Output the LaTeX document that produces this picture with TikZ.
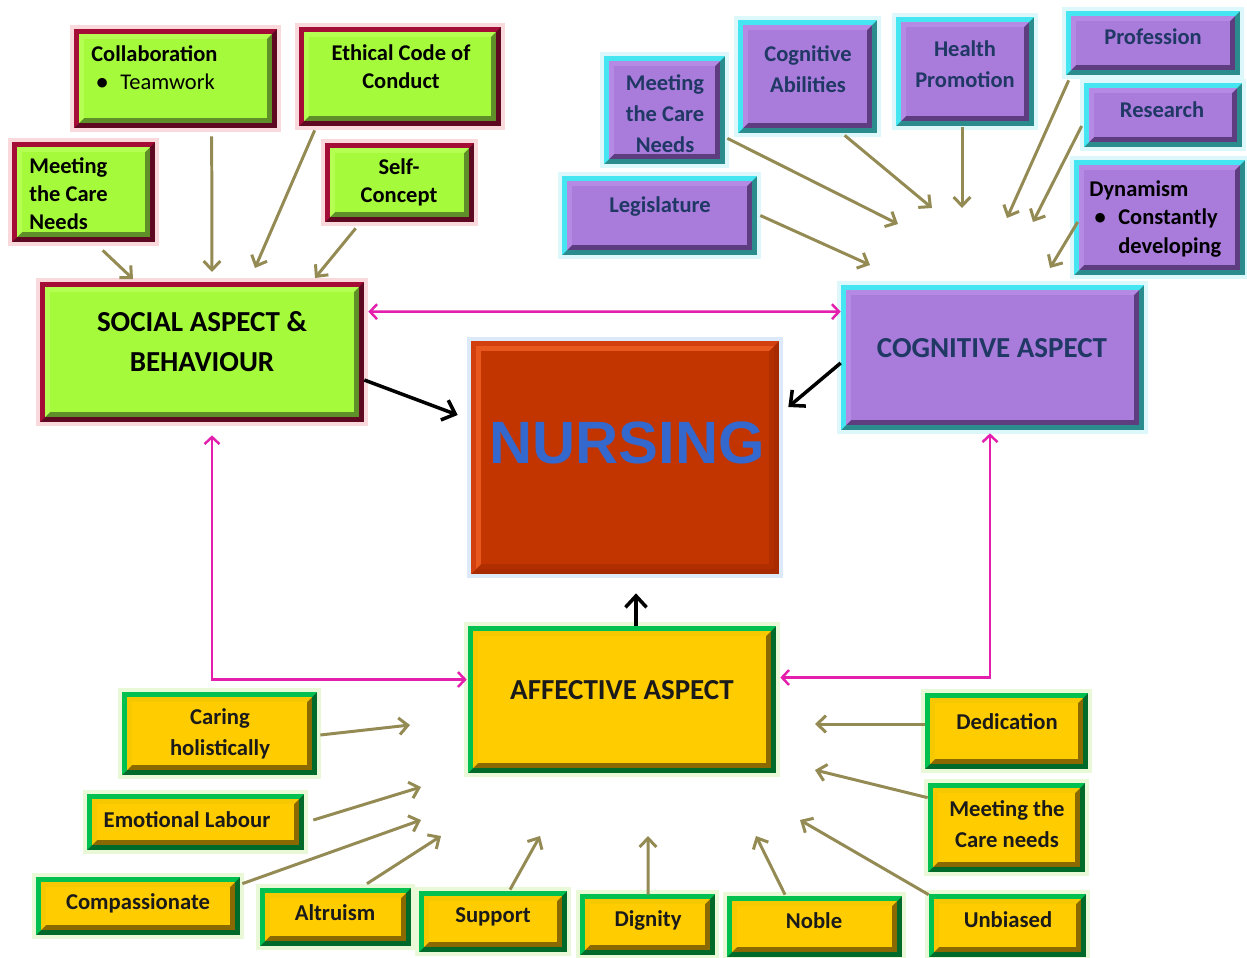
\documentclass[tikz,border=0pt]{standalone}
\usepackage{fontspec}
\setmainfont{Carlito}
\newfontfamily\nursefont{Liberation Sans}
\usetikzlibrary{arrows.meta,calc}
\definecolor{olv}{HTML}{948A54}
\definecolor{mag}{HTML}{E41FAE}
\definecolor{pnavy}{HTML}{1F3864}
\definecolor{ytext}{HTML}{1A1A1A}
% green set
\definecolor{gBl}{HTML}{A40E36}
\definecolor{gBd}{HTML}{5E0822}
\definecolor{gVl}{HTML}{B4FF52}
\definecolor{gVd}{HTML}{5F8F28}
\definecolor{gM}{HTML}{A6FA3C}
\definecolor{gG}{HTML}{F2A0A8}
% purple set
\definecolor{pBl}{HTML}{45E6F2}
\definecolor{pBd}{HTML}{2A8C8C}
\definecolor{pVl}{HTML}{B48AE4}
\definecolor{pVd}{HTML}{5E3C80}
\definecolor{pM}{HTML}{A97BDB}
\definecolor{pG}{HTML}{A8EEF6}
% yellow set
\definecolor{yBl}{HTML}{00C050}
\definecolor{yBd}{HTML}{006A2A}
\definecolor{yVl}{HTML}{F5C800}
\definecolor{yVd}{HTML}{8A6A00}
\definecolor{yM}{HTML}{FFCC00}
\definecolor{yG}{HTML}{C8EE9C}
% nursing set
\definecolor{nBl}{HTML}{D24010}
\definecolor{nBd}{HTML}{A82A00}
\definecolor{nVl}{HTML}{E8581E}
\definecolor{nVd}{HTML}{B02E00}
\definecolor{nM}{HTML}{C23400}
\definecolor{nG}{HTML}{A8C8F0}
\definecolor{nText}{HTML}{3468CC}
\def\Bw{0.1cm}
\def\Bi{0.2cm}
\tikzset{
  bev/.style n args={6}{rectangle, inner sep=0pt, fill=#2,
    preaction={draw=#6, line width=5pt, opacity=0.4},
    path picture={
      \path (path picture bounding box.south west) coordinate (SW)
            (path picture bounding box.north east) coordinate (NE)
            (path picture bounding box.north west) coordinate (NW)
            (path picture bounding box.south east) coordinate (SE);
      \fill[#2] (SW) rectangle (NE);
      \fill[#1] (SW) -- (NW) -- (NE) -- ([shift={(-\Bw,-\Bw)}]NE)
            -- ([shift={(\Bw,-\Bw)}]NW) -- ([shift={(\Bw,\Bw)}]SW) -- cycle;
      \fill[#4] ([shift={(\Bw,\Bw)}]SW) rectangle ([shift={(-\Bw,-\Bw)}]NE);
      \fill[#3] ([shift={(\Bw,\Bw)}]SW) -- ([shift={(\Bw,-\Bw)}]NW) -- ([shift={(-\Bw,-\Bw)}]NE)
            -- ([shift={(-\Bi,-\Bi)}]NE) -- ([shift={(\Bi,-\Bi)}]NW) -- ([shift={(\Bi,\Bi)}]SW) -- cycle;
      \fill[#5] ([shift={(\Bi,\Bi)}]SW) rectangle ([shift={(-\Bi,-\Bi)}]NE);
    }},
  gbox/.style={bev={gBl}{gBd}{gVl}{gVd}{gM}{gG}},
  pbox/.style={bev={pBl}{pBd}{pVl}{pVd}{pM}{pG}},
  ybox/.style={bev={yBl}{yBd}{yVl}{yVd}{yM}{yG}},
  nbox/.style={bev={nBl}{nBd}{nVl}{nVd}{nM}{nG}},
  gt/.style={font=\fontsize{12.8}{16}\selectfont\bfseries, text=black, align=center, inner sep=0pt},
  pt/.style={font=\fontsize{12.8}{17.6}\selectfont\bfseries, text=pnavy, align=center, inner sep=0pt},
  yt/.style={font=\fontsize{12.9}{17.6}\selectfont\bfseries, text=ytext, align=center, inner sep=0pt},
  bigt/.style={font=\fontsize{16.5}{22.7}\selectfont\bfseries, align=center, inner sep=0pt},
  olvarrow/.style={draw=olv, line width=1.7pt, -{Straight Barb[length=5pt,width=9.5pt]}},
  magarrow/.style={draw=mag, line width=1.4pt, {Straight Barb[length=4pt,width=8.5pt]}-{Straight Barb[length=4pt,width=8.5pt]}},
  blkarrow/.style={draw=black, line width=2pt, -{Straight Barb[length=6.5pt,width=12pt]}},
}
\begin{document}
\begin{tikzpicture}[x=0.02cm,y=-0.02cm]
\useasboundingbox[fill=white] (0,0) rectangle (1247,957);

% ---------- green boxes ----------
\node[gbox, minimum width=4.06cm, minimum height=1.98cm] (collab) at (175.5,78.5) {};
\node[gbox, minimum width=4.04cm, minimum height=1.98cm] (ethic) at (400,76.5) {};
\node[gbox, minimum width=2.86cm, minimum height=2.00cm] (gmeet) at (83.5,192) {};
\node[gbox, minimum width=2.98cm, minimum height=1.58cm] (self) at (399.5,182.5) {};
\node[gbox, minimum width=6.48cm, minimum height=2.80cm] (social) at (202,352) {};

\node[gt, align=left, anchor=west] (collabT) at (91,67.5)
  {Collaboration\\\hspace*{3pt}\makebox[13.5pt][l]{\textbullet}\mdseries Teamwork};
\node[gt] (ethicT) at (401,67) {Ethical Code of\\Conduct};
\node[gt, align=left, anchor=west] (gmeetT) at (29,194) {Meeting\\the Care\\Needs};
\node[gt] (selfT) at (399,182) {Self-\\Concept};
\node[bigt] (socialT) at (202,342) {SOCIAL ASPECT \&\\BEHAVIOUR};

% ---------- purple boxes ----------
\node[pbox, minimum width=2.42cm, minimum height=2.16cm] (pmeet) at (664.5,110) {};
\node[pbox, minimum width=2.78cm, minimum height=2.26cm] (cogab) at (807.5,76.5) {};
\node[pbox, minimum width=2.76cm, minimum height=2.18cm] (health) at (965,71.5) {};
\node[pbox, minimum width=3.48cm, minimum height=1.28cm] (prof) at (1153,43) {};
\node[pbox, minimum width=3.16cm, minimum height=1.28cm] (research) at (1163,115) {};
\node[pbox, minimum width=3.42cm, minimum height=2.30cm] (dyn) at (1159.5,217.5) {};
\node[pbox, minimum width=3.90cm, minimum height=1.58cm] (legis) at (659.5,215.5) {};
\node[pbox, minimum width=6.06cm, minimum height=2.90cm] (cog) at (992.5,357.5) {};

\node[pt] (pmeetT) at (665,114) {Meeting\\the Care\\Needs};
\node[pt] (cogabT) at (808,69) {Cognitive\\Abilities};
\node[pt] (healthT) at (965,64) {Health\\Promotion};
\node[pt] (profT) at (1153,37) {Profession};
\node[pt] (researchT) at (1162,110) {Research};
\node[pt, font=\fontsize{12.8}{16}\selectfont\bfseries, text=black, align=left, anchor=west] (dynT) at (1089,219)
  {Dynamism\\\hspace*{3pt}\makebox[13.5pt][l]{\textbullet}Constantly\\\hspace*{16.5pt}developing};
\node[pt] (legisT) at (660,207) {Legislature};
\node[bigt, text=pnavy] (cogT) at (992,348) {COGNITIVE ASPECT};

% ---------- nursing ----------
\node[nbox, minimum width=6.16cm, minimum height=4.66cm] (nurse) at (625,457.5) {};
\node[font=\nursefont\bfseries\fontsize{34}{40}\selectfont, text=nText, inner sep=0pt] (nurseT) at (627,443) {NURSING};

% ---------- yellow boxes ----------
\node[ybox, minimum width=6.16cm, minimum height=2.94cm] (aff) at (622,699.5) {};
\node[ybox, minimum width=3.90cm, minimum height=1.66cm] (caring) at (219.5,733.5) {};
\node[ybox, minimum width=4.34cm, minimum height=1.12cm] (emot) at (195.5,822) {};
\node[ybox, minimum width=4.08cm, minimum height=1.16cm] (comp) at (138,906) {};
\node[ybox, minimum width=3.02cm, minimum height=1.16cm] (altr) at (335.5,917) {};
\node[ybox, minimum width=2.96cm, minimum height=1.22cm] (supp) at (493,921.5) {};
\node[ybox, minimum width=2.70cm, minimum height=1.22cm] (dign) at (647.5,924.5) {};
\node[ybox, minimum width=3.50cm, minimum height=1.22cm] (noble) at (814.5,926.5) {};
\node[ybox, minimum width=3.14cm, minimum height=1.26cm] (unb) at (1007.5,925.5) {};
\node[ybox, minimum width=3.26cm, minimum height=1.52cm] (dedic) at (1006.5,731) {};
\node[ybox, minimum width=3.14cm, minimum height=1.78cm] (ymeet) at (1006.5,827.5) {};

\node[bigt, text=ytext] (affT) at (622,690) {AFFECTIVE ASPECT};
\node[yt] (caringT) at (220,733.5) {Caring\\holistically};
\node[yt] (emotT) at (187,820) {Emotional Labour};
\node[yt] (compT) at (138,903) {Compassionate};
\node[yt] (altrT) at (335,913) {Altruism};
\node[yt] (suppT) at (493,917) {Support};
\node[yt] (dignT) at (648,920) {Dignity};
\node[yt] (nobleT) at (814,921) {Noble};
\node[yt] (unbT) at (1008,920) {Unbiased};
\node[yt] (dedicT) at (1007,722) {Dedication};
\node[yt] (ymeetT) at (1007,824) {Meeting the\\Care needs};

% ---------- free arrow ends ----------
\coordinate (e1) at (133,279);
\coordinate (e2) at (212,272);
\coordinate (e3) at (255,268);
\coordinate (e4) at (315,278);
\coordinate (c1) at (898,224);
\coordinate (c2) at (932,208);
\coordinate (c3) at (962,208);
\coordinate (c4) at (1007,218);
\coordinate (c5) at (1033,222);
\coordinate (c6) at (1050,268);
\coordinate (c7) at (870,265);
\coordinate (a1) at (410,725);
\coordinate (a2) at (421,787);
\coordinate (a3) at (421,820);
\coordinate (a4) at (441,836);
\coordinate (a5) at (540,836);
\coordinate (a6) at (648,836);
\coordinate (a7) at (756,836);
\coordinate (a8) at (800,820);
\coordinate (a9) at (815,770);
\coordinate (a10) at (815,724);

% ---------- olive arrows ----------
\draw[olvarrow] ($(gmeet.south west)+(91,8)$) -- (e1);
\draw[olvarrow] ($(collab.south west)+(138,8)$) -- (e2);
\draw[olvarrow] ($(ethic.south west)+(16,4)$) -- (e3);
\draw[olvarrow] ($(self.south west)+(31,6)$) -- (e4);

\draw[olvarrow] ($(pmeet.south east)+(2,-26)$) -- (c1);
\draw[olvarrow] ($(cogab.south west)+(107,2)$) -- (c2);
\draw[olvarrow] ($(health.south)+(-3,1)$) -- (c3);
\draw[olvarrow] ($(prof.south west)+(3,5)$) -- (c4);
\draw[olvarrow] ($(research.west)+(-2,11)$) -- (c5);
\draw[olvarrow] ($(dyn.west)+(4,4.5)$) -- (c6);
\draw[olvarrow] ($(legis.east)+(3,0)$) -- (c7);

\draw[olvarrow] ($(caring.east)+(3,1.5)$) -- (a1);
\draw[olvarrow] ($(emot.east)+(9,-2)$) -- (a2);
\draw[olvarrow] ($(comp.north east)+(2,7)$) -- (a3);
\draw[olvarrow] ($(altr.north)+(31.5,-4)$) -- (a4);
\draw[olvarrow] ($(supp.north)+(17,-1)$) -- (a5);
\draw[olvarrow] ($(dign.north)+(0.5,1)$) -- (a6);
\draw[olvarrow] ($(noble.north)+(-29.5,-1)$) -- (a7);
\draw[olvarrow] ($(unb.north west)+(0,1)$) -- (a8);
\draw[olvarrow] ($(ymeet.north west)+(0,15)$) -- (a9);
\draw[olvarrow] ($(dedic.west)+(0,-7)$) -- (a10);

% ---------- magenta arrows ----------
\draw[magarrow] ($(social.north east)+(4,30)$) -- ($(cog.north west)+(0,27)$);
\draw[magarrow] ($(social.south)+(10,13)$) |- ($(aff.west)+(-1,-20)$);
\draw[magarrow] ($(cog.south)+(-2.5,3)$) |- ($(aff.east)+(4,-22)$);

% ---------- black arrows ----------
\draw[blkarrow] ($(social.east)+(0,28)$) -- ($(nurse.west)+(-13,-42.5)$);
\draw[blkarrow] ($(cog.west)+(0,5.5)$) -- ($(nurse.east)+(9,-50.5)$);
\draw[blkarrow] ($(aff.north)+(14,0)$) -- ($(nurse.south)+(11,19)$);
\end{tikzpicture}
\end{document}
